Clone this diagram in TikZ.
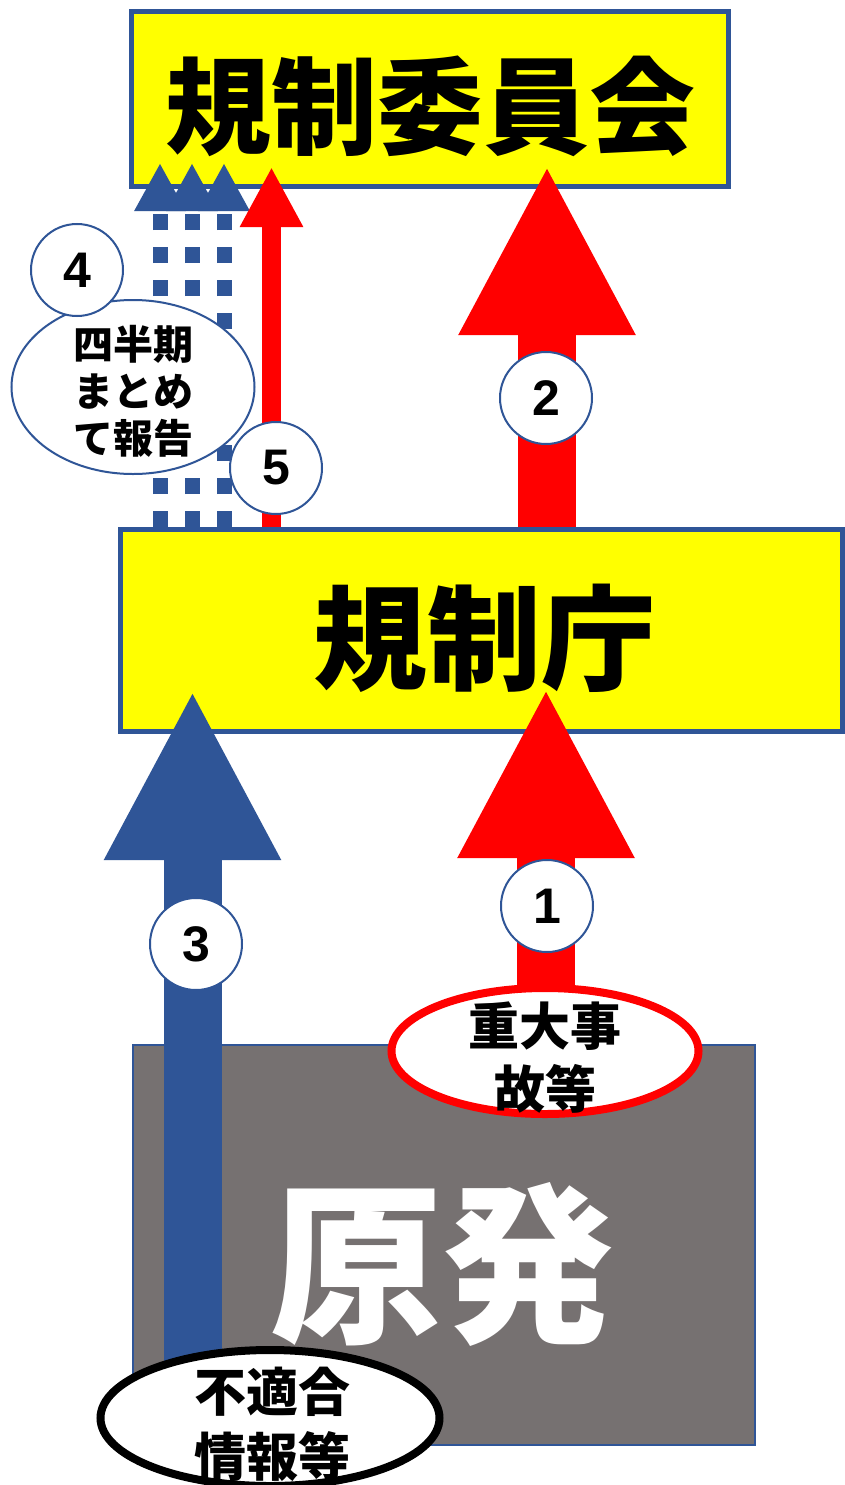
\documentclass[tikz,border=0pt]{standalone}
\usepackage{fontspec}
\newfontfamily\jp{Noto Sans CJK JP}
\newfontfamily\numfont{Liberation Sans}
\usetikzlibrary{arrows.meta,shapes.geometric}
\definecolor{cblue}{HTML}{2F5597}
\definecolor{cred}{HTML}{FF0000}
\definecolor{cyel}{HTML}{FFFF00}
\definecolor{cgray}{HTML}{767171}
\begin{document}
\begin{tikzpicture}[x=1pt,y=-1pt,
  box/.style={draw=cblue, line width=5pt, fill=cyel, inner sep=0pt},
  numcirc/.style={circle, draw=cblue, line width=2pt, fill=white, minimum size=92pt, inner sep=0pt,
     font=\numfont\bfseries\fontsize{50}{50}\selectfont},
  bigarrow/.style={line width=58pt, -{Triangle[width=164pt,length=170pt]}},
  thinarrow/.style={line width=19pt, -{Triangle[width=59pt,length=60pt]}},
  dotarrow/.style={cblue, line width=15pt, dash pattern=on 16pt off 17pt, -{Triangle[width=48pt,length=48pt]}},
  jtext/.style={font=\jp\bfseries, align=center, inner sep=0pt}
]
\useasboundingbox (0,0) rectangle (845,1485);
\fill[white] (0,0) rectangle (845,1485);

% boxes
\node[box, minimum width=597pt, minimum height=174pt] (iinkai) at (429.5,99) {};
\node[jtext, font=\jp\bfseries\fontsize{106}{106}\selectfont] (iinkaiT) at (430,106) {規制委員会};
\node[box, minimum width=722pt, minimum height=202pt] (chou) at (481,630) {};
\node[jtext, font=\jp\bfseries\fontsize{114}{114}\selectfont] (chouT) at (484,638) {規制庁};
\node[draw=cblue, line width=2pt, fill=cgray, minimum width=622pt, minimum height=400pt, inner sep=0pt] (gen) at (444,1245) {};
\node[jtext, text=white, font=\jp\bfseries\fontsize{172}{172}\selectfont] (genT) at (442,1264) {原発};

% arrow coordinates
\coordinate (a3s) at (192.5,1420);
\coordinate (a3e) at (192.5,690);
\coordinate (a1s) at (546,1000);
\coordinate (a1e) at (546,688);
\coordinate (a2s) at (547,527);
\coordinate (a2e) at (547,165);
\coordinate (a5s) at (271.5,527);
\coordinate (a5e) at (271.5,167);
\coordinate (d1s) at (160,527);
\coordinate (d1e) at (160,163);
\coordinate (d2s) at (192,527);
\coordinate (d2e) at (192,163);
\coordinate (d3s) at (224,527);
\coordinate (d3e) at (224,163);

\draw[dotarrow] (d1s) -- (d1e);
\draw[dotarrow] (d2s) -- (d2e);
\draw[dotarrow] (d3s) -- (d3e);
\draw[thinarrow, cred] (a5s) -- (a5e);
\draw[bigarrow, cred] (a2s) -- (a2e);
\draw[bigarrow, cred] (a1s) -- (a1e);
\draw[bigarrow, cblue] (a3s) -- (a3e);

% ellipses
\node[ellipse, draw=cblue, line width=2pt, fill=white, minimum width=243pt, minimum height=174pt, inner sep=0pt] (e4) at (133,387) {};
\node[jtext, font=\jp\bfseries\fontsize{40}{47}\selectfont] (e4T) at (133,391) {四半期\\まとめ\\て報告};
\node[ellipse, draw=cred, line width=8pt, fill=white, minimum width=307pt, minimum height=126pt, inner sep=0pt] (e1) at (545,1051) {};
\node[jtext, font=\jp\bfseries\fontsize{51}{63}\selectfont] (e1T) at (545,1058) {重大事\\故等};
\node[ellipse, draw=black, line width=8pt, fill=white, minimum width=339pt, minimum height=136pt, inner sep=0pt] (e3) at (270,1418) {};
\node[jtext, font=\jp\bfseries\fontsize{52}{65}\selectfont] (e3T) at (272,1424) {不適合\\情報等};

% numbered circles
\node[numcirc] (c4) at (77,270) {4};
\node[numcirc] (c5) at (276,468) {5};
\node[numcirc] (c2) at (546,398) {2};
\node[numcirc] (c1) at (547,906) {1};
\node[numcirc] (c3) at (196,944) {3};
\end{tikzpicture}
\end{document}
